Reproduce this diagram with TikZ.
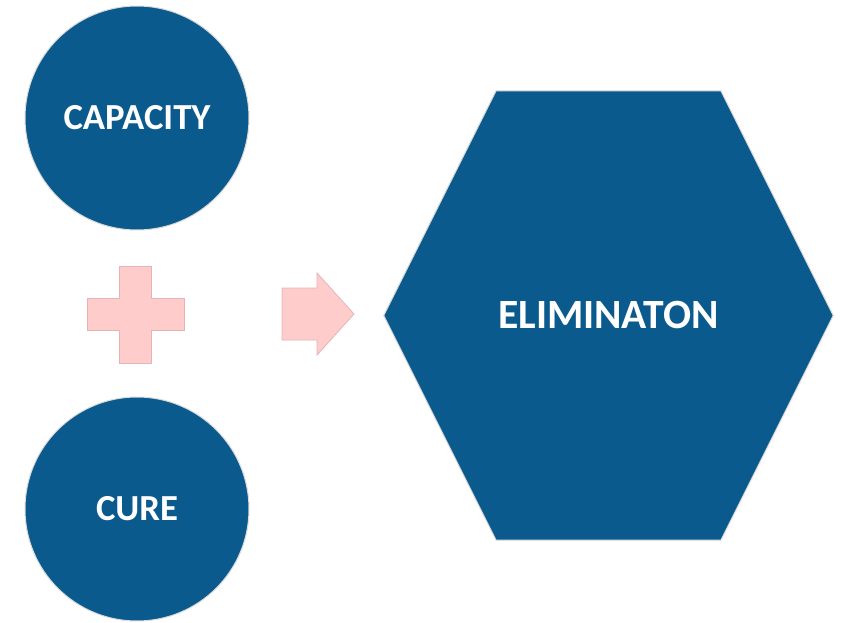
\documentclass[tikz,border=0pt]{standalone}
\usepackage{fontspec}
\setmainfont{Carlito}
\usetikzlibrary{calc}
\definecolor{deepblue}{HTML}{0B5A8E}
\definecolor{rimgray}{HTML}{DADADA}
\definecolor{softpink}{HTML}{FFCCCC}
\definecolor{pinkedge}{HTML}{E3B5B5}
\tikzset{
  disc/.style={circle, fill=deepblue, draw=rimgray, line width=1pt,
    minimum size=224pt, inner sep=0pt, text=white,
    font=\bfseries\fontsize{36.7}{42}\selectfont},
  hexlabel/.style={minimum width=449pt, minimum height=449pt, inner sep=0pt,
    text=white, font=\bfseries\fontsize{41.6}{48}\selectfont},
  hexfill/.style={fill=deepblue, draw=rimgray, line width=1pt},
  pinkshape/.style={fill=softpink, draw=pinkedge, line width=0.8pt}
}
\begin{document}
\begin{tikzpicture}[x=1pt, y=-1pt]
  \useasboundingbox (0,0) rectangle (841,623);

  % two input circles
  \node[disc] (capacity) at (137,118) {CAPACITY};
  \node[disc] (cure) at (137,509) {CURE};

  % hexagon outcome
  \node[hexlabel] (elim) at (608.5,315.5) {};
  \path[hexfill]
    (elim.west)
    -- ($(elim.north west)!0.25!(elim.north east)$)
    -- ($(elim.north west)!0.75!(elim.north east)$)
    -- (elim.east)
    -- ($(elim.south west)!0.75!(elim.south east)$)
    -- ($(elim.south west)!0.25!(elim.south east)$)
    -- cycle;
  \node[hexlabel] (elimtext) at (elim.center) {ELIMINATON};

  % plus sign
  \coordinate (plus) at (135.5,314.5);
  \path[pinkshape] (plus)
    ++(-16,-48.5) -- ++(32,0) -- ++(0,32.5) -- ++(32.5,0) -- ++(0,32)
    -- ++(-32.5,0) -- ++(0,32.5) -- ++(-32,0) -- ++(0,-32.5)
    -- ++(-32.5,0) -- ++(0,-32) -- ++(32.5,0) -- cycle;

  % block arrow
  \coordinate (arrowtip) at (354,314);
  \path[pinkshape] (arrowtip)
    -- ++(-37,-41) -- ++(0,15) -- ++(-35,0) -- ++(0,52) -- ++(35,0)
    -- ++(0,15) -- cycle;
\end{tikzpicture}
\end{document}
